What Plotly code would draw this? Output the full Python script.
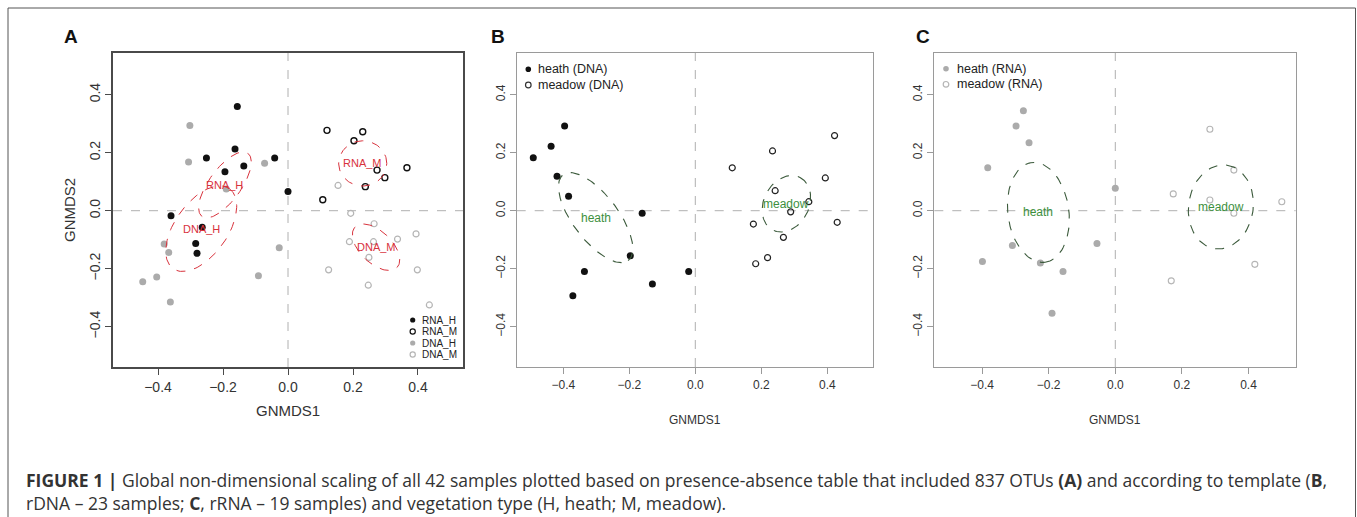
import numpy as np
import plotly.graph_objects as go

W, H = 1357, 517

# ---------------- data ----------------
A_rnaH_x = [-0.156, -0.163, -0.251, -0.041, -0.194, -0.136, 0.0, -0.36, -0.264, -0.284, -0.28]
A_rnaH_y = [0.359, 0.213, 0.182, 0.182, 0.134, 0.154, 0.066, -0.017, -0.057, -0.113, -0.147]
A_rnaM_x = [0.12, 0.23, 0.203, 0.274, 0.298, 0.366, 0.238, 0.107]
A_rnaM_y = [0.277, 0.272, 0.241, 0.140, 0.114, 0.148, 0.083, 0.038]
A_dnaH_x = [-0.302, -0.306, -0.072, -0.19, -0.381, -0.367, -0.027, -0.091, -0.404, -0.447, -0.362]
A_dnaH_y = [0.294, 0.168, 0.164, 0.075, -0.115, -0.144, -0.128, -0.224, -0.229, -0.245, -0.315]
A_dnaM_x = [0.154, 0.193, 0.265, 0.189, 0.263, 0.337, 0.394, 0.249, 0.125, 0.398, 0.247, 0.435]
A_dnaM_y = [0.087, -0.009, -0.045, -0.107, -0.107, -0.098, -0.08, -0.161, -0.204, -0.204, -0.257, -0.325]

B_heath_x = [-0.491, -0.437, -0.396, -0.419, -0.384, -0.161, -0.197, -0.336, -0.02, -0.371, -0.13]
B_heath_y = [0.183, 0.222, 0.292, 0.119, 0.05, -0.009, -0.155, -0.21, -0.21, -0.293, -0.253]
B_meadow_x = [0.422, 0.234, 0.112, 0.394, 0.242, 0.344, 0.289, 0.176, 0.43, 0.267, 0.219, 0.183]
B_meadow_y = [0.259, 0.206, 0.148, 0.113, 0.069, 0.031, -0.004, -0.046, -0.04, -0.092, -0.162, -0.183]

C_heath_x = [-0.276, -0.298, -0.259, -0.383, 0.0, -0.055, -0.309, -0.399, -0.225, -0.157, -0.19]
C_heath_y = [0.345, 0.292, 0.234, 0.148, 0.077, -0.113, -0.12, -0.175, -0.18, -0.21, -0.354]
C_meadow_x = [0.284, 0.174, 0.284, 0.356, 0.356, 0.5, 0.419, 0.168]
C_meadow_y = [0.281, 0.058, 0.037, 0.14, -0.009, 0.031, -0.185, -0.242]

# ellipses: label, centre x, centre y, semi-axis vector 1 (dx, dy), semi-axis vector 2 (dx, dy)
ellA_labels = ["RNA_H", "DNA_H", "RNA_M", "DNA_M"]
ellA_cx = [-0.194, -0.267, 0.23, 0.271]
ellA_cy = [0.089, -0.062, 0.163, -0.126]
ellA_u = [(0.0705, 0.109), (0.0865, 0.138), (0.074, 0.0), (0.0646, -0.0697)]
ellA_v = [(0.0398, -0.0324), (0.0666, -0.0523), (0.0, 0.078), (0.0339, 0.0395)]

ellB_labels = ["heath", "meadow"]
ellB_cx = [-0.302, 0.276]
ellB_cy = [-0.024, 0.024]
ellB_u = [(0.0985, -0.148), (0.0413, 0.0906)]
ellB_v = [(0.0546, 0.0472), (0.0608, -0.0358)]

ellC_labels = ["heath", "meadow"]
ellC_cx = [-0.231, 0.317]
ellC_cy = [-0.006, 0.013]
ellC_u = [(0.0205, -0.1718), (0.0183, 0.144)]
ellC_v = [(0.0907, 0.0143), (0.096, -0.016)]

tick_vals = [-0.4, -0.2, 0.0, 0.2, 0.4]
tick_text = ["\u22120.4", "\u22120.2", "0.0", "0.2", "0.4"]

legA_names = ["RNA_H", "RNA_M", "DNA_H", "DNA_M"]
legB_names = ["heath (DNA)", "meadow (DNA)"]
legC_names = ["heath (RNA)", "meadow (RNA)"]

# ---------------- styles ----------------
FONT = "Liberation Sans, Arial, Helvetica, sans-serif"
CAP_FONT = "Open Sans, Liberation Sans, Arial, sans-serif"
BLACK = "#111111"
GREY = "#ababab"
GREY_OPEN = "#b5b5b5"
RED = "#d8323c"
GREEN = "#3d8f3d"
ELL_GREEN = "#3b5a3b"

fig = go.Figure()

def add_pts(x, y, name, xa, ya, filled, color, size, lw=1.4):
    if filled:
        marker = dict(symbol="circle", size=size, color=color, line=dict(width=0))
    else:
        marker = dict(symbol="circle-open", size=size, color=color, line=dict(width=lw, color=color))
    fig.add_trace(go.Scatter(x=x, y=y, mode="markers", name=name, xaxis=xa, yaxis=ya,
                             showlegend=False, marker=marker, hoverinfo="x+y+name"))

def add_ell(cx, cy, u, v, xa, ya, color, width):
    t = np.linspace(0, 2 * np.pi, 120)
    ex = cx + u[0] * np.cos(t) + v[0] * np.sin(t)
    ey = cy + u[1] * np.cos(t) + v[1] * np.sin(t)
    fig.add_trace(go.Scatter(x=ex, y=ey, mode="lines", xaxis=xa, yaxis=ya, showlegend=False,
                             line=dict(color=color, width=width, dash="dash"), hoverinfo="skip"))

# Panel A
add_pts(A_rnaH_x, A_rnaH_y, "RNA_H", "x", "y", True, BLACK, 7)
add_pts(A_rnaM_x, A_rnaM_y, "RNA_M", "x", "y", False, BLACK, 6)
add_pts(A_dnaH_x, A_dnaH_y, "DNA_H", "x", "y", True, GREY, 7)
add_pts(A_dnaM_x, A_dnaM_y, "DNA_M", "x", "y", False, GREY_OPEN, 6, 1.2)
for i in range(len(ellA_labels)):
    add_ell(ellA_cx[i], ellA_cy[i], ellA_u[i], ellA_v[i], "x", "y", RED, 1.0)

# Panel B
add_pts(B_heath_x, B_heath_y, "heath (DNA)", "x2", "y2", True, BLACK, 7)
add_pts(B_meadow_x, B_meadow_y, "meadow (DNA)", "x2", "y2", False, "#222222", 6, 1.2)
for i in range(len(ellB_labels)):
    add_ell(ellB_cx[i], ellB_cy[i], ellB_u[i], ellB_v[i], "x2", "y2", ELL_GREEN, 1.1)

# Panel C
add_pts(C_heath_x, C_heath_y, "heath (RNA)", "x3", "y3", True, GREY, 7)
add_pts(C_meadow_x, C_meadow_y, "meadow (RNA)", "x3", "y3", False, GREY_OPEN, 6, 1.1)
for i in range(len(ellC_labels)):
    add_ell(ellC_cx[i], ellC_cy[i], ellC_u[i], ellC_v[i], "x3", "y3", ELL_GREEN, 1.1)

# ---------------- layout ----------------
def px(x):
    return x / W

def py(y):
    return 1 - y / H

yd = [py(367), py(53)]

def xaxis(domain, rng, color, fsize, lw):
    return dict(domain=domain, range=rng, tickvals=tick_vals, ticktext=tick_text,
                ticks="outside", ticklen=6, tickwidth=1, tickcolor=color,
                showline=True, mirror=True, linecolor=color, linewidth=lw,
                showgrid=False, zeroline=False, fixedrange=True,
                tickfont=dict(family=FONT, size=fsize, color="#333333"))

def yaxis(domain, rng, color, fsize, lw, anchor):
    d = xaxis(domain, rng, color, fsize, lw)
    d["tickangle"] = -90
    d["anchor"] = anchor
    return d

layout = dict(
    width=W, height=H, margin=dict(l=0, r=0, t=0, b=0),
    paper_bgcolor="white", plot_bgcolor="white",
    font=dict(family=FONT, color="#333333"),
    xaxis=xaxis([px(113), px(463)], [-0.5385, 0.5385], "#4a4a4a", 14, 1.5),
    yaxis=yaxis(yd, [-0.539, 0.5438], "#4a4a4a", 14, 1.5, "x"),
    xaxis2=xaxis([px(516.7), px(873.3)], [-0.5412, 0.5394], "#9a9a9a", 12, 1.2),
    yaxis2=yaxis(yd, [-0.539, 0.5438], "#9a9a9a", 12, 1.2, "x2"),
    xaxis3=xaxis([px(934.3), px(1295.7)], [-0.5435, 0.5417], "#9a9a9a", 12, 1.2),
    yaxis3=yaxis(yd, [-0.539, 0.5438], "#9a9a9a", 12, 1.2, "x3"),
    showlegend=False,
)
fig.update_layout(**layout)

shapes = []
# zero dashed lines
for xa, ya in [("x", "y"), ("x2", "y2"), ("x3", "y3")]:
    shapes.append(dict(type="line", xref=xa, yref=ya + " domain", x0=0, x1=0, y0=0, y1=1,
                       line=dict(color="#b0b0b0", width=1, dash="dash"), layer="below"))
    shapes.append(dict(type="line", xref=xa + " domain", yref=ya, x0=0, x1=1, y0=0, y1=0,
                       line=dict(color="#b0b0b0", width=1, dash="dash"), layer="below"))
# outer frame
shapes.append(dict(type="rect", xref="paper", yref="paper", x0=px(8), x1=px(1355.5),
                   y0=-0.02, y1=py(8), line=dict(color="#555555", width=1)))

ann = []

def text_ann(text, x, y, size, color="#333333", xanchor="center", angle=0, family=FONT):
    ann.append(dict(text=text, x=px(x), y=py(y), xref="paper", yref="paper",
                    showarrow=False, xanchor=xanchor, yanchor="middle", textangle=angle,
                    align="left", font=dict(family=family, size=size, color=color)))

def legend_entry(cx, cy, filled, color, label, tx, fsize, r, lw=1.2):
    shapes.append(dict(type="circle", xref="paper", yref="paper",
                       xsizemode="pixel", ysizemode="pixel",
                       xanchor=px(cx), yanchor=py(cy), x0=-r, x1=r, y0=-r, y1=r,
                       fillcolor=color if filled else "rgba(0,0,0,0)",
                       line=dict(color=color, width=0 if filled else lw)))
    text_ann(label, tx, cy, fsize, "#222222", xanchor="left")

# legend A (bottom right in panel A)
legA_style = [(True, BLACK), (False, BLACK), (True, GREY), (False, GREY_OPEN)]
legA_rows = [320, 331.5, 343, 354.5]
for i, name in enumerate(legA_names):
    legend_entry(412.7, legA_rows[i], legA_style[i][0], legA_style[i][1], name, 420, 10, 2.6)
# legend B
legB_style = [(True, BLACK), (False, "#333333")]
for i, name in enumerate(legB_names):
    legend_entry(528.3, [69.3, 85][i], legB_style[i][0], legB_style[i][1], name, 536, 12.5, 2.8)
# legend C
legC_style = [(True, GREY), (False, GREY_OPEN)]
for i, name in enumerate(legC_names):
    legend_entry(946, [68.7, 84.3][i], legC_style[i][0], legC_style[i][1], name, 955, 12.5, 2.8)

fig.update_layout(shapes=shapes)

# panel letters
for letter, x in [("A", 71), ("B", 498), ("C", 923)]:
    text_ann("<b>%s</b>" % letter, x, 36, 19, "#111111")
# axis titles
text_ann("GNMDS2", 70, 210, 15, angle=-90)
text_ann("GNMDS1", 288, 410, 15)
text_ann("GNMDS1", 695, 420, 12)
text_ann("GNMDS1", 1115, 420, 12)
# ellipse labels
for i, lab in enumerate(ellA_labels):
    ann.append(dict(text=lab, x=ellA_cx[i], y=ellA_cy[i], xref="x", yref="y", showarrow=False,
                    xanchor="center", yanchor="middle", font=dict(family=FONT, size=11, color=RED)))
for i, lab in enumerate(ellB_labels):
    ann.append(dict(text=lab, x=ellB_cx[i], y=ellB_cy[i], xref="x2", yref="y2", showarrow=False,
                    xanchor="center", yanchor="middle", font=dict(family=FONT, size=12, color=GREEN)))
for i, lab in enumerate(ellC_labels):
    ann.append(dict(text=lab, x=ellC_cx[i], y=ellC_cy[i], xref="x3", yref="y3", showarrow=False,
                    xanchor="center", yanchor="middle", font=dict(family=FONT, size=12, color=GREEN)))
# caption (one block, two lines)
cap1 = ("<b>FIGURE 1 |</b> Global non-dimensional scaling of all 42 samples plotted based on "
        "presence-absence table that included 837 OTUs <b>(A)</b> and according to template (<b>B</b>,")
cap2 = ("rDNA \u2013 23 samples; <b>C</b>, rRNA \u2013 19 samples) and vegetation type "
        "(H, heath; M, meadow).")
text_ann(cap1 + "<br>" + cap2, 24, 491.5, 17.5, xanchor="left", family=CAP_FONT)
fig.update_layout(annotations=ann)

fig.write_html("out.html", config={"displayModeBar": False},
               post_script="document.body.style.margin='0';document.body.style.overflow='hidden';")
